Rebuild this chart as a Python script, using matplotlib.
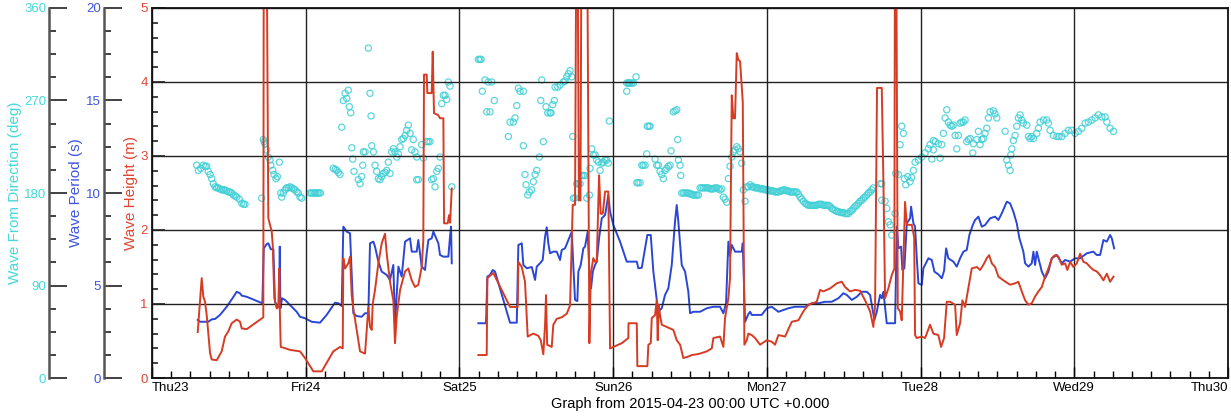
import numpy as np
import matplotlib
matplotlib.use("Agg")
import matplotlib.pyplot as plt
from matplotlib.ticker import MultipleLocator

# ---------------- data (hours since 2015-04-23 00:00 UTC) ----------------
day_labels = ["Thu23", "Fri24", "Sat25", "Sun26", "Mon27", "Tue28", "Wed29", "Thu30"]

# Wave height (m) - two segments
height_t1 = [7.14, 7.76, 8.01, 8.28, 8.54, 9.06, 9.32, 10.10, 10.88, 11.40, 11.91, 12.45, 13.23, 13.74, 14.01, 14.79,
             17.38, 17.45, 17.9, 18.16, 18.69, 18.85, 19.10, 19.47, 19.72, 19.88, 19.95, 20.10, 20.50, 21.55, 23.11,
             23.89, 25.19, 26.50, 28.31, 29.36, 29.78, 29.87, 30.14, 30.65, 30.92, 31.18, 31.43, 32.21, 32.48, 33.26,
             33.78, 34.04, 34.31, 34.46, 34.82, 35.34, 35.87, 36.38, 36.65, 37.16, 37.68, 37.94, 38.21, 38.73, 39.51,
             40.02, 40.55, 41.07, 41.58, 42.11, 42.36, 42.47, 42.89, 42.99, 43.67, 43.83, 44.03, 44.71, 44.97, 45.49,
             45.60, 46.17, 46.38, 46.55, 46.80]
height_v1 = [0.62, 1.35, 1.10, 1.03, 0.85, 0.34, 0.25, 0.24, 0.36, 0.56, 0.63, 0.74, 0.79, 0.76, 0.67, 0.66,
             0.82, 6.0, 6.0, 2.16, 1.98, 1.80, 1.08, 0.94, 0.96, 1.48, 0.94, 0.42, 0.41, 0.38, 0.36,
             0.27, 0.09, 0.09, 0.36, 0.42, 0.40, 1.62, 1.48, 1.55, 1.64, 1.12, 0.94, 0.51, 0.36, 0.33,
             0.95, 0.69, 0.65, 1.00, 1.19, 1.55, 1.82, 1.95, 1.68, 1.30, 1.05, 0.47, 0.83, 1.19, 1.44,
             1.48, 1.32, 1.23, 1.26, 1.50, 1.86, 4.10, 4.10, 3.85, 3.85, 4.41, 3.58, 3.55, 3.51, 3.51,
             2.09, 2.09, 2.20, 2.10, 2.56]

height_t2 = [50.95, 52.26, 52.36, 53.29, 55.90, 57.10, 57.20, 57.73, 58.24, 58.66, 59.54, 60.32, 60.70, 61.10, 61.37,
             61.52, 61.70, 62.41, 62.66, 63.19, 63.97, 64.76, 65.27, 65.69, 66.05, 66.25, 66.45, 66.65, 66.9, 67.05,
             67.3, 67.7, 67.95, 68.29, 68.5, 68.9, 69.17, 69.44, 69.80, 70.06, 70.38, 70.74, 71.25, 71.52, 73.34,
             74.37, 74.40, 75.69, 75.78, 77.34, 77.50, 77.87, 78.03, 78.54, 78.81, 78.96, 79.12, 79.32, 79.59, 80.37,
             81.40, 81.93, 82.45, 82.96, 83.74, 84.27, 85.05, 85.57, 86.62, 87.40, 87.65, 88.69, 89.21, 89.47, 89.99,
             90.25, 90.52, 90.77, 91.03, 91.30, 91.55, 91.82, 92.24, 92.49, 92.86, 93.11, 93.64, 94.16, 94.94, 95.99,
             96.77, 97.28, 97.80, 98.84, 99.89, 100.92, 101.70, 102.48, 103.79, 104.31, 104.82, 105.87, 106.92, 107.70,
             108.21, 108.99, 109.77, 110.55, 111.33, 112.12, 112.63, 112.90, 113.2, 113.94, 114.19, 114.46, 114.97,
             115.50, 115.91, 116.0, 116.2, 116.44, 116.80, 117.06, 117.58, 117.85, 118.63, 119.0, 119.14, 119.41,
             120.19, 120.70, 121.48, 122.00, 122.78, 123.20, 123.67, 124.09, 124.61, 125.39, 125.65, 126.17, 126.53,
             126.95, 127.62, 127.99, 128.77, 129.29, 129.81, 130.34, 130.70, 131.12, 131.63, 132.15, 132.93, 133.98,
             134.76, 135.27, 135.80, 136.32, 136.84, 137.36, 137.88, 138.40, 138.93, 139.44, 139.96, 140.49, 141.00,
             141.52, 142.05, 142.56, 142.92, 143.35, 143.86, 144.39, 144.91, 145.42, 145.95, 146.47, 146.98, 147.51,
             148.03, 148.55, 149.08, 149.59, 150.12]
height_v2 = [0.31, 0.31, 1.35, 1.42, 0.96, 0.96, 1.57, 1.50, 1.30, 0.56, 0.60, 0.57, 0.51, 0.32, 0.72,
             1.12, 0.45, 0.42, 0.72, 0.80, 0.82, 0.87, 0.98, 2.34, 2.34, 6.0, 6.0, 2.40, 2.40, 6.0,
             6.0, 6.0, 6.0, 0.47, 1.40, 1.62, 1.57, 1.57, 2.74, 2.22, 2.22, 2.52, 2.52, 0.40, 0.47,
             0.54, 0.74, 0.74, 0.16, 0.16, 0.45, 0.47, 0.81, 0.85, 1.05, 0.51, 0.99, 0.85, 0.72, 0.69,
             0.65, 0.51, 0.45, 0.27, 0.29, 0.31, 0.32, 0.33, 0.36, 0.40, 0.54, 0.56, 0.42, 0.81, 1.08,
             1.35, 3.82, 3.51, 3.51, 4.39, 4.30, 4.28, 3.73, 0.45, 0.51, 0.60, 0.58, 0.54, 0.45, 0.51,
             0.49, 0.45, 0.58, 0.56, 0.76, 0.78, 0.90, 0.99, 1.03, 1.19, 1.17, 1.21, 1.28, 1.30,
             1.23, 1.17, 1.19, 1.18, 1.05, 0.90, 0.69, 0.99, 3.92, 3.92, 2.70, 1.08, 1.21,
             1.39, 1.48, 6.0, 6.0, 0.94, 0.90, 0.78, 2.38, 2.07, 2.07, 1.90, 0.58, 0.54,
             0.56, 0.54, 0.72, 0.60, 0.58, 0.42, 0.54, 1.03, 1.03, 0.99, 0.58, 0.74, 1.05,
             0.96, 1.30, 1.48, 1.50, 1.46, 1.53, 1.62, 1.66, 1.55, 1.50, 1.37, 1.32, 1.26,
             1.28, 1.30, 1.17, 1.05, 0.99, 1.01, 1.10, 1.17, 1.23, 1.37, 1.48, 1.62, 1.66,
             1.64, 1.53, 1.55, 1.46, 1.57, 1.50, 1.55, 1.68, 1.57, 1.55, 1.50, 1.46, 1.44,
             1.39, 1.32, 1.41, 1.30, 1.37]

# Wave period (s) - two segments
period_t1 = [7.14, 7.51, 8.80, 9.32, 9.84, 10.62, 11.66, 12.45, 13.23, 13.74, 14.01, 14.79, 17.23, 17.45, 17.91,
             18.16, 18.54, 18.95, 19.20, 19.57, 19.85, 19.95, 20.05, 20.31, 20.77, 21.28, 21.81, 22.59, 23.11, 23.89,
             24.93, 26.23, 27.27, 28.57, 29.10, 29.62, 29.87, 30.40, 30.92, 31.43, 31.96, 32.74, 33.26, 33.78, 34.04,
             34.56, 34.82, 35.34, 35.87, 36.65, 37.16, 37.68, 37.94, 38.47, 38.99, 39.51, 40.29, 40.55, 41.33, 41.58,
             42.11, 42.63, 42.89, 43.15, 43.67, 43.93, 44.71, 44.97, 45.49, 46.27, 46.53, 46.69, 46.80]
period_v1 = [3.14, 3.04, 3.04, 3.17, 3.19, 3.41, 3.85, 4.25, 4.66, 4.58, 4.45, 4.39, 4.04, 7.01, 7.24,
             7.28, 6.96, 6.96, 4.12, 3.89, 3.85, 7.10, 3.77, 4.31, 4.22, 4.04, 3.85, 3.58, 3.31, 3.23,
             3.04, 2.99, 3.41, 4.07, 4.04, 3.89, 8.18, 7.91, 7.82, 3.50, 3.35, 3.31, 3.50, 3.50, 7.28,
             7.37, 7.10, 6.29, 5.75, 5.57, 5.30, 6.11, 2.96, 6.02, 5.48, 7.37, 7.55, 6.83, 6.83, 7.46,
             6.02, 5.84, 6.74, 7.46, 7.55, 7.91, 7.28, 6.65, 6.56, 6.56, 7.64, 8.18, 6.20]

period_t2 = [50.95, 52.15, 52.36, 52.78, 53.20, 53.56, 55.90, 56.95, 57.20, 57.73, 57.98, 58.51, 59.30, 59.81, 60.07,
             60.58, 61.00, 61.37, 61.63, 61.88, 62.15, 62.66, 63.19, 63.71, 63.97, 64.49, 65.01, 65.54, 65.79, 66.05,
             66.41, 66.57, 66.94, 67.35, 67.61, 68.03, 68.29, 68.55, 68.82, 69.17, 69.44, 69.80, 70.22, 70.74, 71.25,
             71.52, 72.03, 73.08, 74.12, 75.69, 75.94, 76.47, 77.34, 77.87, 78.28, 78.81, 79.06, 79.59, 80.10, 80.62,
             81.15, 81.66, 81.93, 82.18, 82.71, 83.23, 83.74, 84.01, 84.52, 85.57, 86.62, 87.65, 88.69, 89.21, 89.63,
             89.99, 90.25, 90.52, 91.03, 92.08, 92.24, 92.60, 93.11, 93.38, 93.64, 95.20, 95.99, 96.77, 97.80, 99.36,
             100.40, 101.97, 103.01, 104.04, 105.09, 106.13, 107.17, 107.95, 108.48, 109.26, 110.04, 110.82, 111.60,
             112.12, 112.38, 112.79, 113.16, 113.68, 113.94, 114.20, 114.72, 116.02, 116.29, 116.54, 116.96, 117.16,
             117.47, 117.85, 118.36, 118.52, 118.88, 119.14, 119.41, 119.66, 120.19, 120.44, 121.22, 121.75, 122.16,
             122.78, 123.31, 123.67, 123.99, 124.34, 125.12, 125.65, 126.17, 126.69, 127.21, 127.62, 128.15, 128.51,
             129.03, 129.56, 130.07, 130.85, 131.63, 132.15, 132.68, 133.46, 133.98, 134.49, 135.02, 135.43, 136.05,
             136.32, 136.84, 137.36, 137.62, 137.88, 138.14, 138.40, 138.93, 139.44, 139.96, 140.49, 141.27, 142.05,
             142.56, 143.35, 144.13, 144.91, 145.95, 146.98, 147.51, 148.03, 148.55, 149.08, 149.59, 149.86, 150.22]
period_v2 = [2.96, 2.96, 5.48, 5.57, 5.84, 5.75, 2.99, 2.99, 7.19, 7.28, 6.11, 5.93, 6.00, 5.30, 6.02,
             6.20, 6.38, 7.64, 8.15, 7.28, 6.74, 6.83, 6.83, 6.38, 6.92, 7.01, 7.46, 7.91, 6.02, 4.22,
             4.16, 5.75, 6.11, 7.01, 7.10, 7.91, 5.75, 4.85, 5.75, 6.11, 6.29, 7.55, 8.63, 8.81, 9.89,
             8.99, 8.27, 7.37, 6.29, 6.29, 5.93, 5.96, 7.73, 7.73, 5.75, 4.22, 3.58, 3.77, 4.49, 4.85,
             6.11, 8.45, 9.35, 8.45, 6.11, 5.75, 4.66, 3.50, 3.58, 3.58, 3.77, 3.85, 3.85, 3.50, 4.04,
             7.37, 6.60, 7.19, 6.83, 6.83, 7.28, 3.04, 3.45, 3.58, 3.41, 3.41, 3.77, 3.85, 3.58, 3.77,
             3.85, 3.85, 4.04, 4.04, 4.12, 4.12, 4.31, 4.58, 4.49, 4.22, 4.39, 4.66, 4.66,
             4.49, 3.95, 3.14, 3.58, 4.49, 4.31, 4.66, 2.96, 2.96, 8.18, 7.01, 7.10, 5.84,
             5.93, 8.36, 8.63, 9.26, 8.36, 8.18, 6.47, 5.12, 5.03, 5.93, 6.47, 6.38, 5.75,
             5.60, 5.39, 5.80, 7.01, 6.47, 6.29, 6.02, 6.47, 6.83, 6.92, 7.73, 8.27, 8.54,
             8.72, 8.18, 8.27, 8.63, 8.72, 8.54, 8.90, 9.53, 9.44, 8.99, 8.36, 7.55, 6.83,
             6.20, 6.02, 6.20, 6.83, 6.11, 6.83, 6.47, 5.75, 5.39, 5.75, 6.47, 6.65, 6.20,
             6.38, 6.29, 6.47, 6.47, 6.74, 6.83, 6.65, 6.65, 7.46, 7.37, 7.73, 7.55, 7.01]

# Wave-from direction (deg) - scatter
direction_t = [6.98, 7.23, 7.6, 8.01, 8.3, 8.54, 8.79, 9.06, 9.32, 9.57, 9.84, 10.1, 10.35, 10.6, 10.88, 11.15, 11.40,
               11.65, 11.91, 12.2, 12.45, 12.70, 13.0, 13.23, 13.63, 14.01, 14.3, 14.52,
               17.13, 17.38, 17.5, 17.64, 17.91, 18.16, 18.43, 18.54, 18.85, 19.05, 19.36, 19.57, 19.88, 20.10, 20.25,
               20.5, 20.77, 21.0, 21.28, 21.55, 21.81, 22.1, 22.33, 22.6, 22.84, 23.11, 23.38,
               24.67, 24.9, 25.14, 25.4, 25.61, 25.85, 26.08, 26.3, 28.31, 28.6, 28.84, 29.1, 29.36,
               29.62, 29.87, 30.14, 30.40, 30.65, 30.81, 31.03, 31.18, 31.34, 31.54, 32.21, 32.48, 32.74, 32.90, 33.00,
               33.26, 33.78, 34.04, 34.20, 34.31, 34.56, 34.82, 35.09, 35.34, 35.60, 35.87, 36.12, 36.4, 36.65, 36.90,
               37.16, 37.43, 37.68, 37.94, 38.21, 38.47, 38.73, 38.99, 39.24, 39.51, 39.77, 40.02, 40.29, 40.55, 40.80,
               41.07, 41.33, 41.33, 41.6, 42.11, 42.36, 42.89, 43.15, 43.41, 43.67, 43.93, 44.19, 44.46, 44.71, 44.97,
               45.24, 45.49, 45.75, 46.02, 46.27, 46.53, 46.80,
               50.95, 51.2, 51.37, 51.58, 52.00, 52.26, 52.51, 52.78, 53.04, 53.45, 55.64, 55.90, 56.42, 56.68, 56.95,
               57.20, 57.46, 57.98, 57.98, 58.24, 58.40, 58.66, 58.92, 59.29, 59.54, 59.81, 60.07, 60.48, 60.70, 60.85,
               61.10, 61.52, 61.79, 62.15, 62.30, 62.57, 62.82, 62.93, 63.35, 63.71, 64.22, 64.49, 64.76, 65.01, 65.27,
               65.54, 65.69, 65.79, 66.05, 66.32, 66.6, 66.83, 67.10, 67.35, 67.61, 67.88, 68.29, 68.39, 68.66, 68.91,
               69.17, 69.44, 69.69, 69.96, 70.22, 70.47, 70.74, 71.0, 71.25, 71.41,
               74.12, 74.37, 74.5, 74.64, 74.9, 75.16, 75.58, 74.12, 75.69, 75.9, 76.20, 76.47, 76.7, 76.98, 77.25,
               77.34, 77.6, 77.76, 78.54, 78.81, 79.06, 79.32, 79.59, 79.84, 80.10, 80.37, 80.62, 80.89, 81.04, 81.40,
               81.66, 81.93, 82.09, 82.18, 82.45, 82.56, 82.71, 82.96, 83.23, 83.5, 83.74, 84.01, 84.27, 84.52, 84.79,
               85.05, 85.30, 85.57, 85.83, 86.09, 86.35, 86.62, 86.87, 87.15, 87.40, 87.65, 87.9, 88.18, 88.45, 88.69,
               88.95, 89.21, 89.47, 89.74, 89.99, 90.25, 90.52, 90.77, 91.03, 91.30, 91.55, 91.82, 92.08, 92.33, 92.60,
               92.86, 93.11, 93.38, 93.64, 93.9, 94.16, 94.4, 94.67, 94.94, 95.2, 95.46, 95.72, 95.99, 96.25, 96.5,
               96.77, 97.03, 97.28, 97.55, 97.80, 98.06, 98.32, 98.58, 98.84, 99.1, 99.36, 99.63, 99.89, 100.15, 100.40,
               100.67, 100.92, 101.19, 101.45, 101.70, 101.97, 102.23, 102.48, 102.75, 103.01, 103.27, 103.53, 103.79,
               104.04, 104.31, 104.57, 104.82, 105.09, 105.35, 105.6, 105.87, 106.13, 106.38, 106.65, 106.92, 107.17,
               107.44, 107.70, 107.95, 108.21, 108.48, 108.73, 108.99, 109.26, 109.51, 109.77, 110.04, 110.3, 110.55,
               110.82, 111.07, 111.33, 111.60, 111.86, 112.12, 112.38, 112.63, 113.68, 113.94, 113.94, 114.46, 114.72,
               114.97, 115.24, 115.50, 116.02, 116.13, 116.54, 116.80, 117.06, 117.32, 117.47, 117.69, 118.00, 118.36,
               118.6, 118.88, 119.14, 119.66, 120.19, 120.70, 121.22, 121.48, 122.00, 121.75, 122.0, 122.3, 122.78,
               123.05, 123.31, 123.56, 123.83, 124.09, 124.34, 124.61, 124.87, 125.1, 125.39, 125.65, 125.90, 126.17,
               126.43, 126.69, 126.95, 127.21, 127.47, 127.73, 128.15, 128.25, 128.77, 129.03, 129.29, 129.56, 129.81,
               130.07, 130.34, 130.59, 130.85, 131.37, 131.63, 131.90, 133.20, 133.46, 133.71, 133.98, 134.09, 134.24,
               134.49, 134.76, 135.02, 135.27, 135.54, 135.80, 136.05, 136.58, 136.84, 137.10, 137.36, 137.62, 138.14,
               138.40, 138.66, 139.18, 139.71, 139.96, 140.22, 140.74, 141.27, 141.6, 142.05, 142.56, 143.08, 143.61,
               144.13, 144.64, 145.17, 145.69, 146.20, 146.73, 147.25, 147.77, 148.30, 148.81, 149.08, 149.59, 150.12]
direction_v = [207, 202, 204, 207, 206, 206, 201, 198, 194, 189, 186, 185, 185, 184, 183, 183, 183,
               182, 181, 181, 180, 178, 177, 176, 174, 170, 169, 169,
               175, 232, 230, 228, 222, 215, 212, 207, 202, 198, 194, 196, 210, 180, 176,
               180, 183, 185, 185, 186, 185, 184, 183, 181, 180, 176, 175,
               180, 180, 180, 180, 180, 180, 180, 180, 204, 203, 202, 200, 198,
               244, 270, 277, 272, 280, 264, 258, 224, 213, 201, 193, 189, 196, 207, 220,
               220, 321, 277, 255, 226, 220, 207, 201, 194, 193, 196, 199, 200, 202, 210,
               199, 220, 223, 220, 215, 218, 225, 232, 233, 236, 241, 246, 238, 222, 232,
               220, 215, 193, 193, 227, 214, 230, 230, 230, 193, 194, 186, 201, 204, 215,
               267, 275, 275, 271, 288, 284, 186,
               310, 310, 310, 279, 290, 259, 288, 259, 288, 270, 235, 249, 249, 253, 265,
               282, 279, 279, 226, 198, 188, 178, 181, 183, 191, 198, 202, 215, 270, 290,
               230, 264, 258, 258, 258, 266, 270, 283, 283, 285, 288, 289, 293, 296, 299,
               293, 235, 175, 175, 189, 189, 189, 197, 197, 197, 175, 178, 204, 223, 217,
               217, 212, 210, 202, 209, 210, 212, 212, 209, 250,
               287, 287, 287, 287, 287, 287, 293, 279, 190, 190, 190, 207, 207, 207, 218,
               245, 245, 245, 213, 207, 207, 201, 198, 194, 202, 204, 206, 207, 221, 259,
               260, 261, 232, 212, 207, 197, 180, 180, 180, 180, 180, 179, 179, 178, 178,
               178, 178, 185, 185, 185, 185, 185, 185, 184, 184, 184, 185, 185, 184, 183,
               184, 176, 174, 171, 194, 206, 215, 220, 222, 225, 223, 220, 209, 183, 172,
               186, 186, 188, 186, 186, 185, 185, 185, 184, 184, 184, 183, 183, 183, 182,
               182, 182, 181, 181, 181, 182, 182, 183, 183, 182, 182, 181, 181, 181, 181,
               181, 179, 176, 174, 172, 170, 169, 168, 168, 168, 168, 168, 168,
               169, 169, 169, 168, 168, 168, 168, 167, 165, 164, 163, 162, 162,
               161, 161, 161, 160, 160, 160, 162, 163, 165, 167, 168, 170, 172,
               173, 175, 176, 178, 180, 181, 183, 185, 189, 189, 173, 172, 165,
               152, 149, 139, 160, 199, 198, 227, 245, 238, 194, 188, 196, 191,
               195, 202, 210, 212, 215, 219, 223, 227, 231, 213, 222, 230, 228,
               214, 227, 238, 253, 261, 249, 246, 245, 246, 236, 223, 236, 248,
               249, 249, 251, 230, 232, 233, 219, 228, 232, 240, 227, 232, 233,
               238, 243, 253, 259, 260, 257, 253, 240, 212, 207, 202, 217, 223,
               231, 236, 245, 253, 256, 251, 248, 246, 235, 233, 235, 233, 238,
               243, 249, 251, 251, 248, 241, 236, 235, 235, 235, 238, 241, 241,
               238, 240, 243, 248, 249, 251, 253, 256, 254, 254, 249, 243, 240]

# ---------------- styling ----------------
RED = "#d63c24"
BLUE = "#2a46d6"
CYAN = "#3fcfd6"
RED_TXT = "#e04632"
BLUE_TXT = "#3f55e0"
CYAN_TXT = "#44d8dc"

plt.rcParams['font.family'] = ['Liberation Sans', 'DejaVu Sans']

W, H = 1231, 419
fig = plt.figure(figsize=(W / 100, H / 100), dpi=100)
left, right, top, bottom = 152, 1228, 8, 378
ax = fig.add_axes([left / W, 1 - bottom / H, (right - left) / W, (bottom - top) / H])
ax_p = ax.twinx()
ax_d = ax.twinx()

ax_d.set_zorder(1)
ax_p.set_zorder(2)
ax.set_zorder(3)
ax.patch.set_visible(False)

# direction scatter
ax_d.scatter(direction_t, direction_v, s=20, facecolors='none', edgecolors=CYAN,
             linewidths=0.9, alpha=0.85)
# period lines
ax_p.plot(period_t1, period_v1, color=BLUE, lw=1.4)
ax_p.plot(period_t2, period_v2, color=BLUE, lw=1.4)
# height lines
ax.plot(height_t1, height_v1, color=RED, lw=1.4)
ax.plot(height_t2, height_v2, color=RED, lw=1.4)

# limits
ax.set_xlim(0, 168)
ax.set_ylim(0, 5)
ax_p.set_ylim(0, 20)
ax_d.set_ylim(0, 360)

# x axis
ax.set_xticks([24 * i for i in range(len(day_labels))])
ax.set_xticklabels(day_labels)
ax.xaxis.set_minor_locator(MultipleLocator(3))
ax.tick_params(axis='x', which='major', direction='in', length=8, width=1, labelsize=9.5, pad=3)
ax.tick_params(axis='x', which='minor', direction='in', length=5, width=1)
xl = ax.get_xticklabels()
xl[0].set_ha('left')
xl[-1].set_ha('right')
ax.set_xlabel("Graph from 2015-04-23 00:00 UTC +0.000", fontsize=10.5, labelpad=2)

# grid
ax.grid(True, which='major', color='#222222', lw=1.0)
ax.set_yticks([0, 1, 2, 3, 4, 5])

# height axis
ax.yaxis.set_minor_locator(MultipleLocator(0.2))
ax.tick_params(axis='y', which='major', direction='in', length=9, width=1.2, colors='#222222',
               labelcolor=RED_TXT, labelsize=9.5, pad=3)
ax.tick_params(axis='y', which='minor', direction='in', length=4, width=1.2, colors='#222222')
ax.set_ylabel("Wave Height (m)", color=RED_TXT, fontsize=11, labelpad=6)
for s in ax.spines.values():
    s.set_color('#111111')
    s.set_linewidth(1.3)

# period axis
for a, frac, col, lab, maj, mnr in [
        (ax_p, -(left - 104) / (right - left), BLUE_TXT, "Wave Period (s)", 5, 1.25),
        (ax_d, -(left - 49) / (right - left), CYAN_TXT, "Wave From Direction (deg)", 90, 22.5)]:
    a.yaxis.set_ticks_position('left')
    a.yaxis.set_label_position('left')
    a.spines['left'].set_visible(True)
    a.spines['left'].set_position(('axes', frac))
    a.spines['left'].set_color('#555555')
    a.spines['left'].set_linewidth(1.8)
    for nm in ['right', 'top', 'bottom']:
        a.spines[nm].set_visible(False)
    a.yaxis.set_major_locator(MultipleLocator(maj))
    a.yaxis.set_minor_locator(MultipleLocator(mnr))
    a.tick_params(axis='y', which='major', direction='in', length=13, width=1.3, colors='#333333',
                  labelcolor=col, labelsize=9.5, pad=2)
    a.tick_params(axis='y', which='minor', direction='in', length=5, width=1.3, colors='#333333')
    a.set_ylabel(lab, color=col, fontsize=11, labelpad=4)

ax_p.yaxis.set_label_coords(-(left - 76) / (right - left), 0.5)
ax_d.yaxis.set_label_coords(-(left - 15) / (right - left), 0.5)
ax.yaxis.set_label_coords(-(left - 131) / (right - left), 0.5)
for a in (ax_p, ax_d, ax):
    a.yaxis.label.set_va('center')

fig.savefig("out.png", dpi=100, facecolor='white')
